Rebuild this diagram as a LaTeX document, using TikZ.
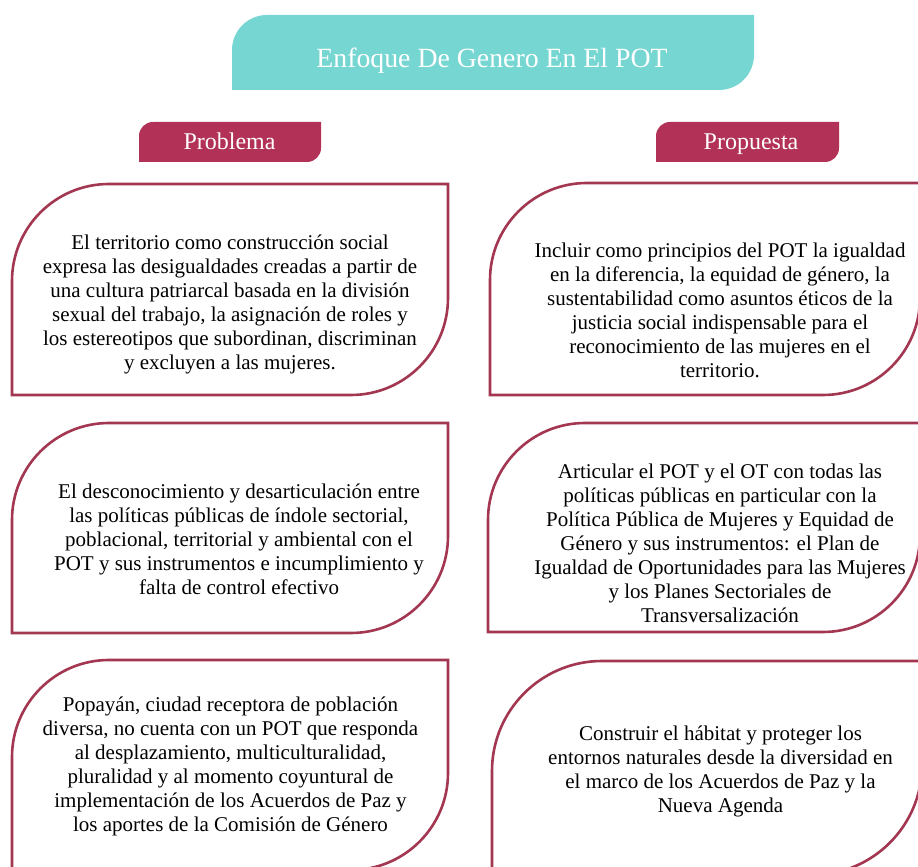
\documentclass[tikz,border=0pt]{standalone}
\usepackage{fontspec}
\setmainfont{Liberation Serif}
\definecolor{titlefill}{HTML}{76D6D2}
\definecolor{tabfill}{HTML}{B23157}
\definecolor{boxedge}{HTML}{A33651}
% diagonal rounded box: #1 style, #2 L, #3 B, #4 R, #5 T, #6 r
\newcommand{\dgbox}[6]{%
  \path[#1] (#2,#3) -- (#2,#5-#6) arc[start angle=180,end angle=90,radius=#6pt]
    -- (#4,#5) -- (#4,#3+#6) arc[start angle=0,end angle=-90,radius=#6pt] -- cycle;}
\tikzset{
  titlebox/.style={fill=titlefill,draw=none},
  tabbox/.style={fill=tabfill,draw=none},
  contentbox/.style={draw=boxedge,line width=2.6pt,fill=white},
  titletext/.style={text=white,font=\fontsize{27.8}{32}\selectfont,inner sep=0pt,anchor=base},
  tabtext/.style={text=white,font=\fontsize{24}{28}\selectfont,inner sep=0pt,anchor=base},
  bodytext/.style={text=black,align=center,font=\fontsize{21}{24}\selectfont,inner sep=0pt}
}
\begin{document}
\begin{tikzpicture}[x=1pt,y=1pt]
\useasboundingbox (0,0) rectangle (918,867);
\clip (0,0) rectangle (918,867);
\fill[white] (0,0) rectangle (918,867);
% title
\dgbox{titlebox}{232}{777}{754}{852}{35}
\node[titletext] (title) at (492,799) {Enfoque De Genero En El POT};
% tabs
\dgbox{tabbox}{139}{705}{321}{745}{14}
\node[tabtext] (problema) at (229.5,717) {Problema};
\dgbox{tabbox}{656}{705}{839}{745}{14}
\node[tabtext] (propuesta) at (751,717) {Propuesta};
% boxes
\dgbox{contentbox}{12}{472}{448}{683}{97}
\dgbox{contentbox}{490}{472}{920}{684}{97}
\dgbox{contentbox}{12}{234}{448}{444}{97}
\dgbox{contentbox}{488}{235}{920}{444}{97}
\dgbox{contentbox}{12}{-3}{448}{207}{97}
\dgbox{contentbox}{492}{-8}{922}{206}{110}
% texts
\node[bodytext] (p1) at (230,562.5) {El territorio como construcción social\\
expresa las desigualdades creadas a partir de\\
una cultura patriarcal basada en la división\\
sexual del trabajo, la asignación de roles y\\
los estereotipos que subordinan, discriminan\\
y excluyen a las mujeres.};
\node[bodytext] (s1) at (720,557) {Incluir como principios del POT la igualdad\\
en la diferencia, la equidad de género, la\\
sustentabilidad como asuntos éticos de la\\
justicia social indispensable para el\\
reconocimiento de las mujeres en el\\
territorio.};
\node[bodytext] (p2) at (239,327.5) {El desconocimiento y desarticulación entre\\
las políticas públicas de índole sectorial,\\
poblacional, territorial y ambiental con el\\
POT y sus instrumentos e incumplimiento y\\
falta de control efectivo};
\node[bodytext] (s2) at (720,323.5) {Articular el POT y el OT con todas las\\
políticas públicas en particular con la\\
Política Pública de Mujeres y Equidad de\\
Género y sus instrumentos: el Plan de\\
Igualdad de Oportunidades para las Mujeres\\
y los Planes Sectoriales de\\
Transversalización};
\node[bodytext] (p3) at (230.5,100.5) {Popayán, ciudad receptora de población\\
diversa, no cuenta con un POT que responda\\
al desplazamiento, multiculturalidad,\\
pluralidad y al momento coyuntural de\\
implementación de los Acuerdos de Paz y\\
los aportes de la Comisión de Género};
\node[bodytext] (s3) at (720.5,96) {Construir el hábitat y proteger los\\
entornos naturales desde la diversidad en\\
el marco de los Acuerdos de Paz y la\\
Nueva Agenda};
\end{tikzpicture}
\end{document}
